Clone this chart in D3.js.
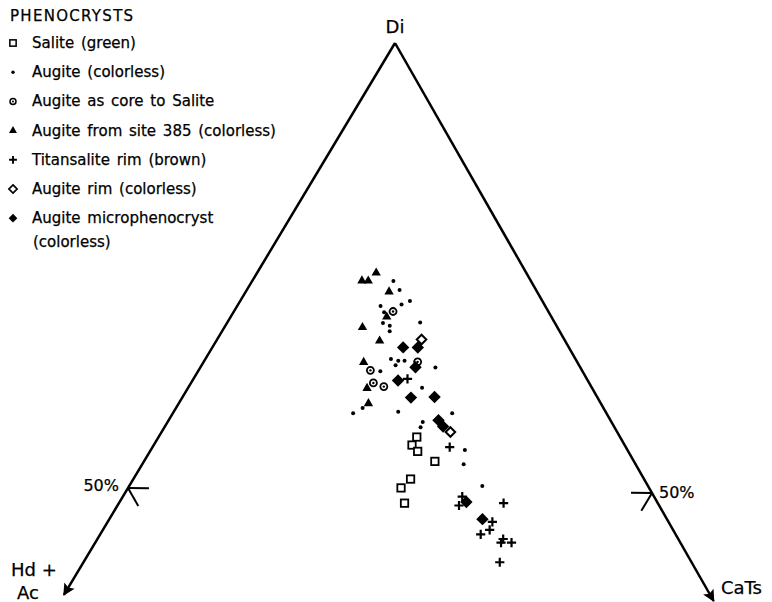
<!DOCTYPE html>
<html>
<head>
<meta charset="utf-8">
<script src="https://cdn.jsdelivr.net/npm/d3@7"></script>
<style>
  body { margin: 0; background: #fff; }
  text { font-family: "DejaVu Sans", sans-serif; fill: #000; stroke: #000; stroke-width: 0.25px; }
</style>
</head>
<body>
<svg id="chart" width="772" height="602"></svg>
<script>
'use strict';

// composition values: [Di, Hd+Ac, CaTs] in percent
const salite = [[56.0, 19.5, 24.5], [55.1, 20.4, 24.5], [54.4, 20.2, 25.4], [53.3, 19.1, 27.6],
    [51.3, 22.4, 26.3], [50.3, 23.8, 25.9], [48.6, 24.3, 27.1]];
const augite = [[73.4, 13.2, 13.4], [72.4, 13.1, 14.5], [70.6, 15.8, 13.6], [70.8, 13.7, 15.5],
    [71.2, 12.7, 16.1], [69.9, 15.8, 14.3], [68.7, 16.5, 14.8], [68.4, 16.0, 15.6],
    [67.8, 16.3, 15.9], [68.8, 12.9, 18.3], [64.7, 17.7, 17.6], [64.5, 17.1, 18.4],
    [64.0, 17.6, 18.4], [64.5, 16.5, 19.0], [63.3, 19.4, 17.3], [61.5, 16.3, 22.2],
    [63.8, 13.9, 22.3], [59.2, 23.1, 17.7], [58.6, 24.3, 17.1], [58.8, 19.9, 21.3],
    [58.7, 14.8, 26.5], [57.7, 18.1, 24.2], [57.1, 18.6, 24.3], [54.6, 15.6, 29.8],
    [53.0, 16.5, 30.5], [50.6, 15.9, 33.5]];
const augiteCore = [[70.0, 14.9, 15.1], [64.4, 15.3, 20.3], [63.4, 20.3, 16.3], [62.0, 20.7, 17.3],
    [61.6, 19.9, 18.5]];
const augite385 = [[73.4, 16.2, 10.4], [73.4, 15.6, 11.0], [74.3, 14.4, 11.3], [72.2, 14.2, 13.6],
    [69.4, 15.8, 14.8], [68.2, 18.7, 13.1], [66.7, 17.8, 15.5], [64.3, 20.5, 15.2],
    [61.4, 21.6, 17.0], [59.7, 22.3, 18.0]];
const titansalite = [[62.5, 17.2, 20.3], [54.9, 16.9, 28.2], [49.4, 18.4, 32.2], [48.4, 19.2, 32.4],
    [48.7, 14.8, 36.5], [46.6, 16.9, 36.5], [45.7, 17.6, 36.7], [45.2, 18.7, 36.1],
    [44.7, 16.8, 38.5], [44.3, 17.2, 38.5], [44.3, 16.2, 39.5], [42.1, 18.4, 39.5]];
const augiteRim = [[66.9, 13.7, 19.4], [56.6, 16.0, 27.4]];
const microphenocryst = [[66.0, 15.9, 18.1], [66.0, 14.5, 19.5], [63.8, 15.8, 20.4], [62.3, 18.2, 19.5],
    [60.4, 17.9, 21.7], [60.5, 15.6, 23.9], [57.9, 16.5, 25.6], [57.2, 16.4, 26.4],
    [48.8, 18.3, 32.9], [46.9, 17.7, 35.4]];

const legendTitle = 'PHENOCRYSTS';
const legendLabels = ['Salite (green)', 'Augite (colorless)', 'Augite as core to Salite',
    'Augite from site 385 (colorless)', 'Titansalite rim (brown)', 'Augite rim (colorless)',
    'Augite microphenocryst', '(colorless)'];
const apexLabels = ['Di', 'Hd +', 'Ac', 'CaTs'];
const tickLabel = '50%';
const edgeEnd = 38;   // edges drawn from Di=100 down to this Di value

const svg = d3.select('#chart');

// triangle vertices in pixels (Di at top, Hd+Ac bottom left, CaTs bottom right)
const vDi = [395, 43];
const vHd = [-139, 933];
const vCa = [909, 943];
const frac = d3.scaleLinear().domain([0, 100]).range([0, 1]);

function project(p) {
    const s = p[0] + p[1] + p[2];
    const a = frac(p[0] * 100 / s), b = frac(p[1] * 100 / s), c = frac(p[2] * 100 / s);
    return [a * vDi[0] + b * vHd[0] + c * vCa[0], a * vDi[1] + b * vHd[1] + c * vCa[1]];
}

// arrow head
svg.append('defs').append('marker')
    .attr('id', 'arrow')
    .attr('viewBox', '0 0 10 10')
    .attr('refX', 9).attr('refY', 5)
    .attr('markerUnits', 'userSpaceOnUse')
    .attr('markerWidth', 17).attr('markerHeight', 12)
    .attr('orient', 'auto')
    .append('path')
    .attr('d', 'M0,0L10,5L0,10L2,5Z')
    .attr('fill', '#000');

const edges = [[[100, 0, 0], [edgeEnd, 100 - edgeEnd, 0]], [[100, 0, 0], [edgeEnd, 0, 100 - edgeEnd]]];
svg.selectAll('line.edge').data(edges).enter().append('line')
    .attr('class', 'edge')
    .attr('x1', d => project(d[0])[0]).attr('y1', d => project(d[0])[1])
    .attr('x2', d => project(d[1])[0]).attr('y2', d => project(d[1])[1])
    .attr('stroke', '#000').attr('stroke-width', 2.5)
    .attr('marker-end', 'url(#arrow)');

// 50% ticks
const ticks = [
    [[50, 50, 0], [50, 48, 2]], [[50, 50, 0], [48, 50, 2]],
    [[50, 0, 50], [50, 2, 48]], [[50, 0, 50], [48, 2, 50]]
];
svg.selectAll('line.tick').data(ticks).enter().append('line')
    .attr('class', 'tick')
    .attr('x1', d => project(d[0])[0]).attr('y1', d => project(d[0])[1])
    .attr('x2', d => project(d[1])[0]).attr('y2', d => project(d[1])[1])
    .attr('stroke', '#000').attr('stroke-width', 2);

const tL = project([50, 50, 0]), tR = project([50, 0, 50]);
svg.append('text').attr('x', tL[0] - 9).attr('y', tL[1] + 3).attr('text-anchor', 'end')
    .style('font-size', '16px').text(tickLabel);
svg.append('text').attr('x', tR[0] + 7).attr('y', tR[1] + 5)
    .style('font-size', '16px').text(tickLabel);

// corner labels
svg.append('text').attr('x', vDi[0]).attr('y', 33).attr('text-anchor', 'middle')
    .style('font-size', '18px').text(apexLabels[0]);
svg.append('text').attr('x', 11).attr('y', 576).style('font-size', '18px').text(apexLabels[1]);
svg.append('text').attr('x', 17).attr('y', 599).style('font-size', '18px').text(apexLabels[2]);
svg.append('text').attr('x', 721).attr('y', 594).style('font-size', '18px').text(apexLabels[3]);

// marker shapes
const shapes = {
    square: g => g.append('rect').attr('x', -3.7).attr('y', -3.7).attr('width', 7.4).attr('height', 7.4)
        .attr('fill', '#fff').attr('stroke', '#000').attr('stroke-width', 1.8),
    dot: g => g.append('circle').attr('r', 2).attr('fill', '#000'),
    ring: g => {
        g.append('circle').attr('r', 3.5).attr('fill', '#fff').attr('stroke', '#000').attr('stroke-width', 1.8);
        g.append('circle').attr('r', 1.2).attr('fill', '#000');
    },
    triangle: g => g.append('path').attr('d', d3.symbol().type(d3.symbolTriangle).size(38)()).attr('fill', '#000'),
    plus: g => g.append('path').attr('d', 'M-4.6,0H4.6M0,-4.6V4.6')
        .attr('stroke', '#000').attr('stroke-width', 2.2),
    diamondOpen: g => g.append('path').attr('d', 'M0,-4.8L4.8,0L0,4.8L-4.8,0Z')
        .attr('fill', '#fff').attr('stroke', '#000').attr('stroke-width', 2),
    diamondFilled: g => g.append('path').attr('d', 'M0,-6.2L6.2,0L0,6.2L-6.2,0Z').attr('fill', '#000')
};

const series = [
    { data: salite, shape: 'square' },
    { data: augite, shape: 'dot' },
    { data: augiteCore, shape: 'ring' },
    { data: augite385, shape: 'triangle' },
    { data: titansalite, shape: 'plus' },
    { data: augiteRim, shape: 'diamondOpen' },
    { data: microphenocryst, shape: 'diamondFilled' }
];

series.forEach(s => {
    s.data.forEach(p => {
        const xy = project(p);
        const g = svg.append('g').attr('transform', `translate(${xy[0]},${xy[1]})`);
        shapes[s.shape](g);
    });
});

// legend
const legend = svg.append('g');
legend.append('text').attr('x', 10).attr('y', 21).style('font-size', '15px')
    .style('letter-spacing', '1.3px').text(legendTitle);
const rowY = d3.scaleLinear().domain([0, 1]).range([43, 72.2]);
series.forEach((s, i) => {
    const y = rowY(i);
    const g = legend.append('g').attr('transform', `translate(13,${y})` + (s.shape === 'diamondFilled' ? ' scale(0.7)' : ' scale(0.85)'));
    shapes[s.shape](g);
    legend.append('text').attr('x', 32).attr('y', y + 5).style('font-size', '15px')
        .style('word-spacing', '2px').text(legendLabels[i]);
});
legend.append('text').attr('x', 33).attr('y', rowY(6) + 29).style('font-size', '15px').text(legendLabels[7]);
</script>
</body>
</html>
